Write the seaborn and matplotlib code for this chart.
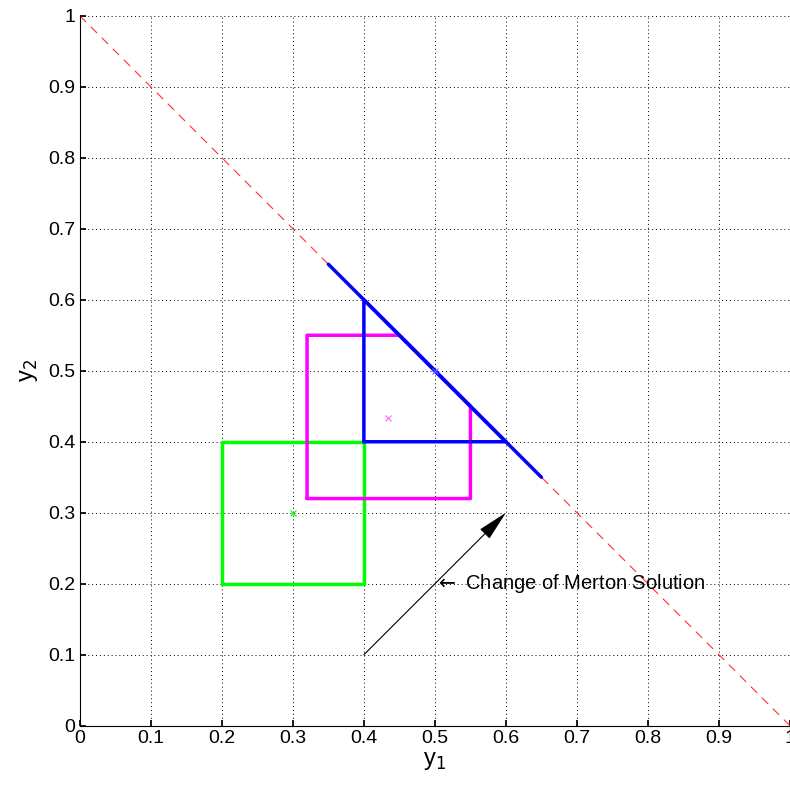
import matplotlib
matplotlib.use("Agg")
import matplotlib.pyplot as plt
import seaborn as sns
import pandas as pd

# boundary y1 + y2 = 1
bound_y1 = [0.0, 1.0]
bound_y2 = [1.0, 0.0]

# green region and its centre
green_y1 = [0.2, 0.4, 0.4, 0.2, 0.2]
green_y2 = [0.2, 0.2, 0.4, 0.4, 0.2]
green_mid = (0.3, 0.3)

# magenta region (clipped by the boundary) and its centre
mag_y1 = [0.32, 0.55, 0.55, 0.45, 0.32, 0.32]
mag_y2 = [0.32, 0.32, 0.45, 0.55, 0.55, 0.32]
mag_mid = (0.4333, 0.4333)

# blue region, boundary segment and centre
blue_y1 = [0.4, 0.6, 0.4, 0.4]
blue_y2 = [0.4, 0.4, 0.6, 0.4]
blue_seg_y1 = [0.35, 0.65]
blue_seg_y2 = [0.65, 0.35]
blue_mid = (0.5, 0.5)

arrow_from, arrow_to = (0.4, 0.1), (0.6, 0.3)
label_at = (0.5, 0.2)
ticks = [0, 0.1, 0.2, 0.3, 0.4, 0.5, 0.6, 0.7, 0.8, 0.9, 1]


def main():
    sns.set_theme(style="white")
    plt.rcParams["font.family"] = ["Liberation Sans", "DejaVu Sans"]
    plt.rcParams.update({"text.color": "black", "axes.labelcolor": "black",
                         "xtick.color": "black", "ytick.color": "black"})
    fig = plt.figure(figsize=(7.9, 7.88), dpi=100)
    ax = fig.add_axes([0.101, 0.079, 0.899, 0.901])

    sns.lineplot(x=bound_y1, y=bound_y2, ax=ax, color="#ff3030", lw=0.8, sort=False)
    ax.lines[-1].set_linestyle((0, (8, 6)))
    sns.lineplot(data=pd.DataFrame({"y1": green_y1, "y2": green_y2}), x="y1", y="y2",
                 sort=False, estimator=None, ax=ax, color="#00ff00", lw=2.5)
    sns.lineplot(data=pd.DataFrame({"y1": mag_y1, "y2": mag_y2}), x="y1", y="y2",
                 sort=False, estimator=None, ax=ax, color="#ff00ff", lw=2.5)
    sns.lineplot(data=pd.DataFrame({"y1": blue_y1, "y2": blue_y2}), x="y1", y="y2",
                 sort=False, estimator=None, ax=ax, color="#0000ff", lw=2.5)
    sns.lineplot(x=blue_seg_y1, y=blue_seg_y2, sort=False, estimator=None, ax=ax, color="#0000ff", lw=2.5)

    for (mx, my), c in [(green_mid, "#00ff00"), (mag_mid, "#ff66ff"), (blue_mid, "#6666ff")]:
        ax.plot(mx, my, marker="x", ms=5, mew=0.8, color=c, ls="none")

    ax.annotate("", xy=arrow_to, xytext=arrow_from,
                arrowprops=dict(arrowstyle="-|>,head_length=1.6,head_width=0.35", color="#555555", lw=0.8,
                                shrinkA=0, shrinkB=0, fc="black", ec="black"))
    ax.text(label_at[0], label_at[1], r"$\leftarrow$ Change of Merton Solution", fontsize=14.5,
            va="center", ha="left")

    ax.set_xlim(0, 1)
    ax.set_ylim(0, 1)
    ax.set_xticks(ticks)
    ax.set_yticks(ticks)
    ax.set_xticklabels([f"{t:g}" for t in ticks], fontsize=14)
    ax.set_yticklabels([f"{t:g}" for t in ticks], fontsize=14)
    ax.grid(True, color="black", ls=(0, (1, 3)), lw=0.7)
    ax.tick_params(direction="in", length=4, color="black", bottom=True, left=True, pad=3)
    for s in ["top", "right"]:
        ax.spines[s].set_visible(False)
    for s in ["left", "bottom"]:
        ax.spines[s].set_color("black")
        ax.spines[s].set_linewidth(0.8)
    ax.set_xlabel("y$_1$", fontsize=17, labelpad=2)
    ax.set_ylabel("y$_2$", fontsize=17, labelpad=6)
    fig.savefig("out.png", dpi=100)


if __name__ == "__main__":
    main()
